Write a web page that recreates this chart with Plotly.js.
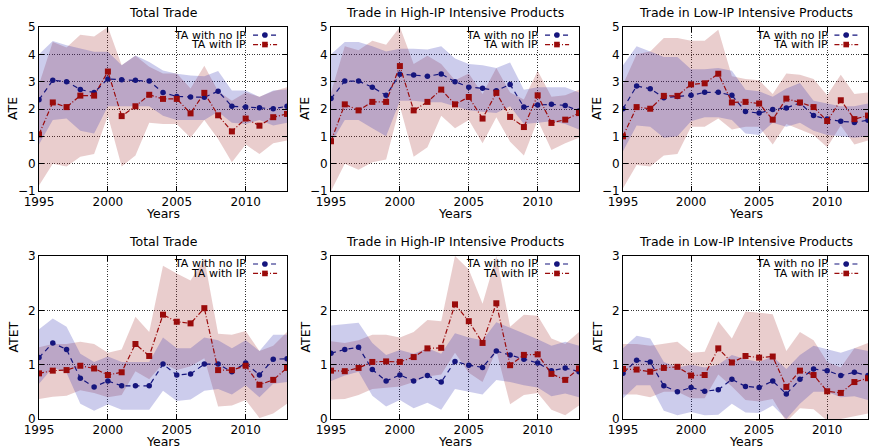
<!DOCTYPE html>
<html>
<head>
<meta charset="utf-8">
<script src="https://cdn.plot.ly/plotly-3.0.1.min.js"></script>
<style>html,body{margin:0;padding:0;background:#fff;}#chart{width:869px;height:448px;}</style>
</head>
<body>
<div id="chart"></div>
<script>
// ---------- data ----------
const years = [1995,1996,1997,1998,1999,2000,2001,2002,2003,2004,2005,2006,2007,2008,2009,2010,2011,2012,2013];
const xTickVals = [1995,2000,2005,2010];
const panelTitles = ["Total Trade","Trade in High-IP Intensive Products","Trade in Low-IP Intensive Products",
                     "Total Trade","Trade in High-IP Intensive Products","Trade in Low-IP Intensive Products"];
const seriesNames = ["TA with no IP","TA with IP"];
const yLabels = ["ATE","ATET"];
const xLabel = "Years";

// ATE - Total Trade
const ateTotalNoIP   = [2.34,3.05,3.00,2.71,2.60,3.10,3.07,3.05,3.02,2.60,2.46,2.44,2.43,2.65,2.10,2.07,2.05,2.01,2.10];
const ateTotalNoIPHi = [4.00,4.49,4.33,4.20,4.09,4.09,3.60,3.96,3.72,3.41,3.29,3.23,3.20,3.39,2.68,2.68,2.44,2.68,2.71];
const ateTotalNoIPLo = [0.70,1.60,1.65,1.20,1.10,2.10,2.10,2.10,2.10,1.75,1.60,1.60,1.60,1.90,1.50,1.45,1.60,1.40,1.50];
const ateTotalIP     = [1.07,2.24,2.07,2.49,2.49,3.37,1.74,2.10,2.52,2.37,2.37,1.84,2.59,1.77,1.18,1.65,1.39,1.70,1.82];
const ateTotalIPHi   = [2.90,4.45,4.25,4.72,4.65,5.00,3.60,3.95,3.55,3.30,3.30,2.75,3.58,2.65,2.30,2.60,2.45,2.65,2.80];
const ateTotalIPLo   = [-0.80,0.00,-0.10,0.25,0.35,1.75,-0.10,0.30,1.50,1.45,1.45,0.95,1.60,0.90,0.05,0.70,0.35,0.75,0.85];

// ATE - High-IP
const ateHighNoIP    = [2.38,3.02,3.02,2.80,2.50,3.27,3.24,3.20,3.28,3.00,2.80,2.76,2.67,2.90,2.07,2.15,2.17,2.13,1.93];
const ateHighNoIPHi  = [4.00,4.45,4.45,4.30,4.10,4.20,4.20,4.18,4.30,3.85,3.65,3.60,3.50,3.70,2.70,2.80,2.80,2.80,2.60];
const ateHighNoIPLo  = [0.75,1.60,1.60,1.30,1.00,2.30,2.30,2.25,2.25,2.10,1.95,1.90,1.85,2.10,1.45,1.50,1.55,1.45,1.25];
const ateHighIP      = [0.82,2.17,1.95,2.26,2.26,3.57,1.95,2.26,2.71,2.17,2.44,1.65,2.59,1.71,1.34,2.50,1.49,1.61,1.85];
const ateHighIPHi    = [2.60,4.30,4.15,4.50,4.35,5.00,3.65,3.95,3.65,3.05,3.30,2.55,3.50,2.60,2.35,3.40,2.45,2.50,2.70];
const ateHighIPLo    = [-1.00,0.00,-0.22,0.05,0.15,2.10,0.25,0.60,1.75,1.30,1.60,0.75,1.70,0.80,0.30,1.60,0.50,0.75,0.95];

// ATE - Low-IP
const ateLowNoIP     = [2.01,2.84,2.74,2.41,2.46,2.50,2.61,2.61,2.50,1.91,1.85,1.98,2.04,2.22,1.76,1.63,1.55,1.51,1.59];
const ateLowNoIPHi   = [3.60,4.30,4.10,3.90,3.90,3.45,3.45,3.50,3.40,2.70,2.65,2.45,2.75,2.95,2.30,2.20,2.10,2.10,2.20];
const ateLowNoIPLo   = [0.45,1.40,1.35,0.95,1.00,1.55,1.70,1.70,1.60,1.10,1.05,1.50,1.35,1.50,1.20,1.05,1.00,0.95,1.00];
const ateLowIP       = [1.00,2.07,2.01,2.48,2.48,2.90,2.94,3.29,2.24,2.26,2.20,1.61,2.38,2.24,2.07,1.56,2.32,1.63,1.76];
const ateLowIPHi     = [2.90,4.00,4.10,4.60,4.60,4.50,4.50,4.90,3.20,3.10,3.05,2.55,3.30,3.25,3.10,2.50,3.25,2.55,2.60];
const ateLowIPLo     = [-0.90,-0.05,-0.10,0.30,0.35,1.35,1.35,1.65,1.25,1.35,1.35,0.70,1.45,1.25,1.05,0.60,1.40,0.70,0.85];

// ATET - Total Trade
const atetTotalNoIP   = [1.13,1.40,1.28,0.75,0.59,0.70,0.61,0.61,0.61,1.01,0.81,0.83,1.01,1.01,0.87,1.03,0.81,1.10,1.11];
const atetTotalNoIPHi = [1.65,1.85,1.70,1.20,1.05,1.15,1.05,1.05,1.05,1.50,1.30,1.30,1.50,1.45,1.30,1.45,1.25,1.55,1.55];
const atetTotalNoIPLo = [0.65,0.95,0.85,0.28,0.15,0.27,0.17,0.17,0.17,0.52,0.33,0.36,0.52,0.55,0.45,0.62,0.40,0.65,0.68];
const atetTotalIP     = [0.84,0.89,0.90,0.98,0.93,0.81,0.86,1.38,1.16,1.92,1.79,1.76,2.04,0.90,0.90,0.98,0.63,0.72,0.94];
const atetTotalIPHi   = [1.32,1.38,1.38,1.42,1.38,1.22,1.28,1.88,1.60,2.82,2.68,2.55,2.95,1.57,1.55,1.62,1.25,1.35,1.60];
const atetTotalIPLo   = [0.37,0.41,0.43,0.53,0.48,0.40,0.44,0.88,0.73,1.02,0.90,0.97,1.12,0.23,0.25,0.35,0.02,0.10,0.28];

// ATET - High-IP
const atetHighNoIP    = [1.21,1.28,1.32,0.91,0.70,0.81,0.70,0.80,0.68,1.06,0.99,0.95,1.25,1.18,1.10,1.03,0.89,0.94,0.87];
const atetHighNoIPHi  = [1.72,1.75,1.77,1.40,1.18,1.27,1.20,1.30,1.20,1.58,1.50,1.45,1.78,1.68,1.58,1.47,1.35,1.42,1.35];
const atetHighNoIPLo  = [0.70,0.80,0.87,0.43,0.23,0.35,0.20,0.30,0.17,0.55,0.50,0.45,0.72,0.68,0.62,0.58,0.42,0.47,0.40];
const atetHighIP      = [0.89,0.88,0.94,1.05,1.06,1.05,1.14,1.30,1.31,2.11,1.80,1.40,2.13,0.99,1.18,1.19,0.83,0.72,0.93];
const atetHighIPHi    = [1.43,1.40,1.45,1.55,1.55,1.50,1.60,1.82,1.80,3.00,2.75,2.12,3.00,1.70,1.92,1.90,1.48,1.38,1.60];
const atetHighIPLo    = [0.36,0.37,0.44,0.55,0.57,0.60,0.68,0.78,0.82,1.22,0.85,0.68,1.26,0.27,0.44,0.48,0.17,0.07,0.25];

// ATET - Low-IP
const atetLowNoIP     = [0.84,1.08,1.05,0.61,0.50,0.58,0.51,0.54,0.73,0.60,0.58,0.70,0.46,0.73,0.92,0.89,0.80,0.86,0.80];
const atetLowNoIPHi   = [1.30,1.53,1.48,1.05,0.95,1.00,0.95,1.00,1.18,1.10,1.05,1.15,0.92,1.18,1.35,1.28,1.22,1.30,1.25];
const atetLowNoIPLo   = [0.38,0.62,0.62,0.15,0.07,0.13,0.07,0.08,0.28,0.12,0.11,0.25,0.00,0.28,0.50,0.50,0.40,0.42,0.35];
const atetLowIP       = [0.92,0.91,0.87,0.94,0.96,0.80,0.81,1.30,1.04,1.16,1.13,1.15,0.59,0.89,0.81,0.51,0.48,0.68,0.75];
const atetLowIPHi     = [1.38,1.38,1.35,1.38,1.42,1.22,1.24,1.80,1.48,1.98,1.95,1.93,1.25,1.60,1.45,1.05,0.95,1.30,1.40];
const atetLowIPLo     = [0.45,0.45,0.40,0.50,0.50,0.38,0.38,0.82,0.60,0.35,0.32,0.37,-0.05,0.20,0.18,-0.03,0.00,0.05,0.10];

// ---------- build ----------
const panels = [
  {noIP: ateTotalNoIP, noIPHi: ateTotalNoIPHi, noIPLo: ateTotalNoIPLo, ip: ateTotalIP, ipHi: ateTotalIPHi, ipLo: ateTotalIPLo},
  {noIP: ateHighNoIP,  noIPHi: ateHighNoIPHi,  noIPLo: ateHighNoIPLo,  ip: ateHighIP,  ipHi: ateHighIPHi,  ipLo: ateHighIPLo},
  {noIP: ateLowNoIP,   noIPHi: ateLowNoIPHi,   noIPLo: ateLowNoIPLo,   ip: ateLowIP,   ipHi: ateLowIPHi,   ipLo: ateLowIPLo},
  {noIP: atetTotalNoIP, noIPHi: atetTotalNoIPHi, noIPLo: atetTotalNoIPLo, ip: atetTotalIP, ipHi: atetTotalIPHi, ipLo: atetTotalIPLo},
  {noIP: atetHighNoIP,  noIPHi: atetHighNoIPHi,  noIPLo: atetHighNoIPLo,  ip: atetHighIP,  ipHi: atetHighIPHi,  ipLo: atetHighIPLo},
  {noIP: atetLowNoIP,   noIPHi: atetLowNoIPHi,   noIPLo: atetLowNoIPLo,   ip: atetLowIP,   ipHi: atetLowIPHi,   ipLo: atetLowIPLo}
];

const W = 869, H = 448;
const colPx = [[39,287],[331,579],[623,868]];
const rowPx = [[27,191],[256,419]];
const FONT = "DejaVu Sans, sans-serif";
const blueLine = "#15157d", redLine = "#9a0b0b";
const blueFill = "rgba(40,40,175,0.24)", redFill = "rgba(165,45,45,0.24)";
const blueDash = "5px,4px", redDash = "5px,2px,1px,2px";

const traces = [];
const layout = {
  width: W, height: H, margin: {l:0, r:0, t:0, b:0},
  paper_bgcolor: "#fff", plot_bgcolor: "#fff",
  showlegend: false,
  font: {family: FONT, size: 12, color: "#000"},
  annotations: [], shapes: []
};

panels.forEach((p, i) => {
  const row = Math.floor(i / 3), col = i % 3;
  const n = i + 1;
  const xa = n === 1 ? "x" : "x" + n, ya = n === 1 ? "y" : "y" + n;
  const revYears = years.slice().reverse();

  traces.push({x: years.concat(revYears), y: p.ipHi.concat(p.ipLo.slice().reverse()),
    type: "scatter", mode: "lines", fill: "toself", fillcolor: redFill, line: {width: 0},
    hoverinfo: "skip", xaxis: xa, yaxis: ya});
  traces.push({x: years.concat(revYears), y: p.noIPHi.concat(p.noIPLo.slice().reverse()),
    type: "scatter", mode: "lines", fill: "toself", fillcolor: blueFill, line: {width: 0},
    hoverinfo: "skip", xaxis: xa, yaxis: ya});
  traces.push({x: years, y: p.noIP, name: seriesNames[0], type: "scatter", mode: "lines+markers",
    line: {color: blueLine, width: 1.2, dash: blueDash}, marker: {symbol: "circle", size: 5.5, color: blueLine},
    xaxis: xa, yaxis: ya, cliponaxis: true});
  traces.push({x: years, y: p.ip, name: seriesNames[1], type: "scatter", mode: "lines+markers",
    line: {color: redLine, width: 1.2, dash: redDash}, marker: {symbol: "square", size: 6, color: redLine},
    xaxis: xa, yaxis: ya, cliponaxis: true});

  const xd = [colPx[col][0] / W, colPx[col][1] / W];
  const yd = [1 - rowPx[row][1] / H, 1 - rowPx[row][0] / H];
  const axCommon = {showline: true, mirror: "allticks", linecolor: "#000", linewidth: 1,
    ticks: "inside", ticklen: 5, tickcolor: "#000", tickwidth: 1,
    showgrid: true, gridcolor: "#333", griddash: "1px,1.5px", gridwidth: 1, zeroline: false,
    tickfont: {family: FONT, size: 12, color: "#000"}};
  layout["xaxis" + (n === 1 ? "" : n)] = Object.assign({}, axCommon, {
    domain: xd, anchor: ya, range: [1995, 2013], tickvals: xTickVals
  });
  layout["yaxis" + (n === 1 ? "" : n)] = Object.assign({}, axCommon, {
    domain: yd, anchor: xa, range: row === 0 ? [-1, 5] : [0, 3], dtick: 1
  });

  // subplot title
  layout.annotations.push({text: panelTitles[i], xref: "paper", yref: "paper",
    x: (colPx[col][0] + colPx[col][1]) / 2 / W, y: 1 - (row === 0 ? 13 : 241) / H,
    xanchor: "center", yanchor: "middle", showarrow: false, font: {family: FONT, size: 12.5}});
  // axis titles
  layout.annotations.push({text: xLabel, xref: "paper", yref: "paper",
    x: (colPx[col][0] + colPx[col][1]) / 2 / W, y: 1 - (row === 0 ? 213.5 : 441.5) / H,
    xanchor: "center", yanchor: "middle", showarrow: false, font: {family: FONT, size: 12.5}});
  layout.annotations.push({text: yLabels[row], xref: "paper", yref: "paper", textangle: -90,
    x: (colPx[col][0] - 26) / W, y: 1 - (rowPx[row][0] + rowPx[row][1]) / 2 / H,
    xanchor: "center", yanchor: "middle", showarrow: false, font: {family: FONT, size: 12.5}});

  // key (gnuplot style: text then sample)
  const dx = xa + " domain", dy = ya + " domain";
  const keyRows = [0.951, 0.893];
  seriesNames.forEach((nm, k) => {
    layout.annotations.push({text: nm, xref: dx, yref: dy, x: 0.84, y: keyRows[k],
      xanchor: "right", yanchor: "middle", showarrow: false, borderpad: 0, height: 9,
      font: {family: FONT, size: 11}});
    layout.shapes.push({type: "line", xref: dx, yref: dy, x0: 0.863, x1: 0.96, y0: keyRows[k], y1: keyRows[k],
      line: {color: k === 0 ? blueLine : redLine, width: 1.2, dash: k === 0 ? blueDash : redDash}});
    layout.shapes.push({type: k === 0 ? "circle" : "rect", xref: dx, yref: dy,
      xsizemode: "pixel", ysizemode: "pixel", xanchor: 0.911, yanchor: keyRows[k],
      x0: -2.8, x1: 2.8, y0: -2.8, y1: 2.8,
      fillcolor: k === 0 ? blueLine : redLine, line: {width: 0}});
  });
});

Plotly.newPlot("chart", traces, layout, {staticPlot: true, displayModeBar: false});
</script>
</body>
</html>
